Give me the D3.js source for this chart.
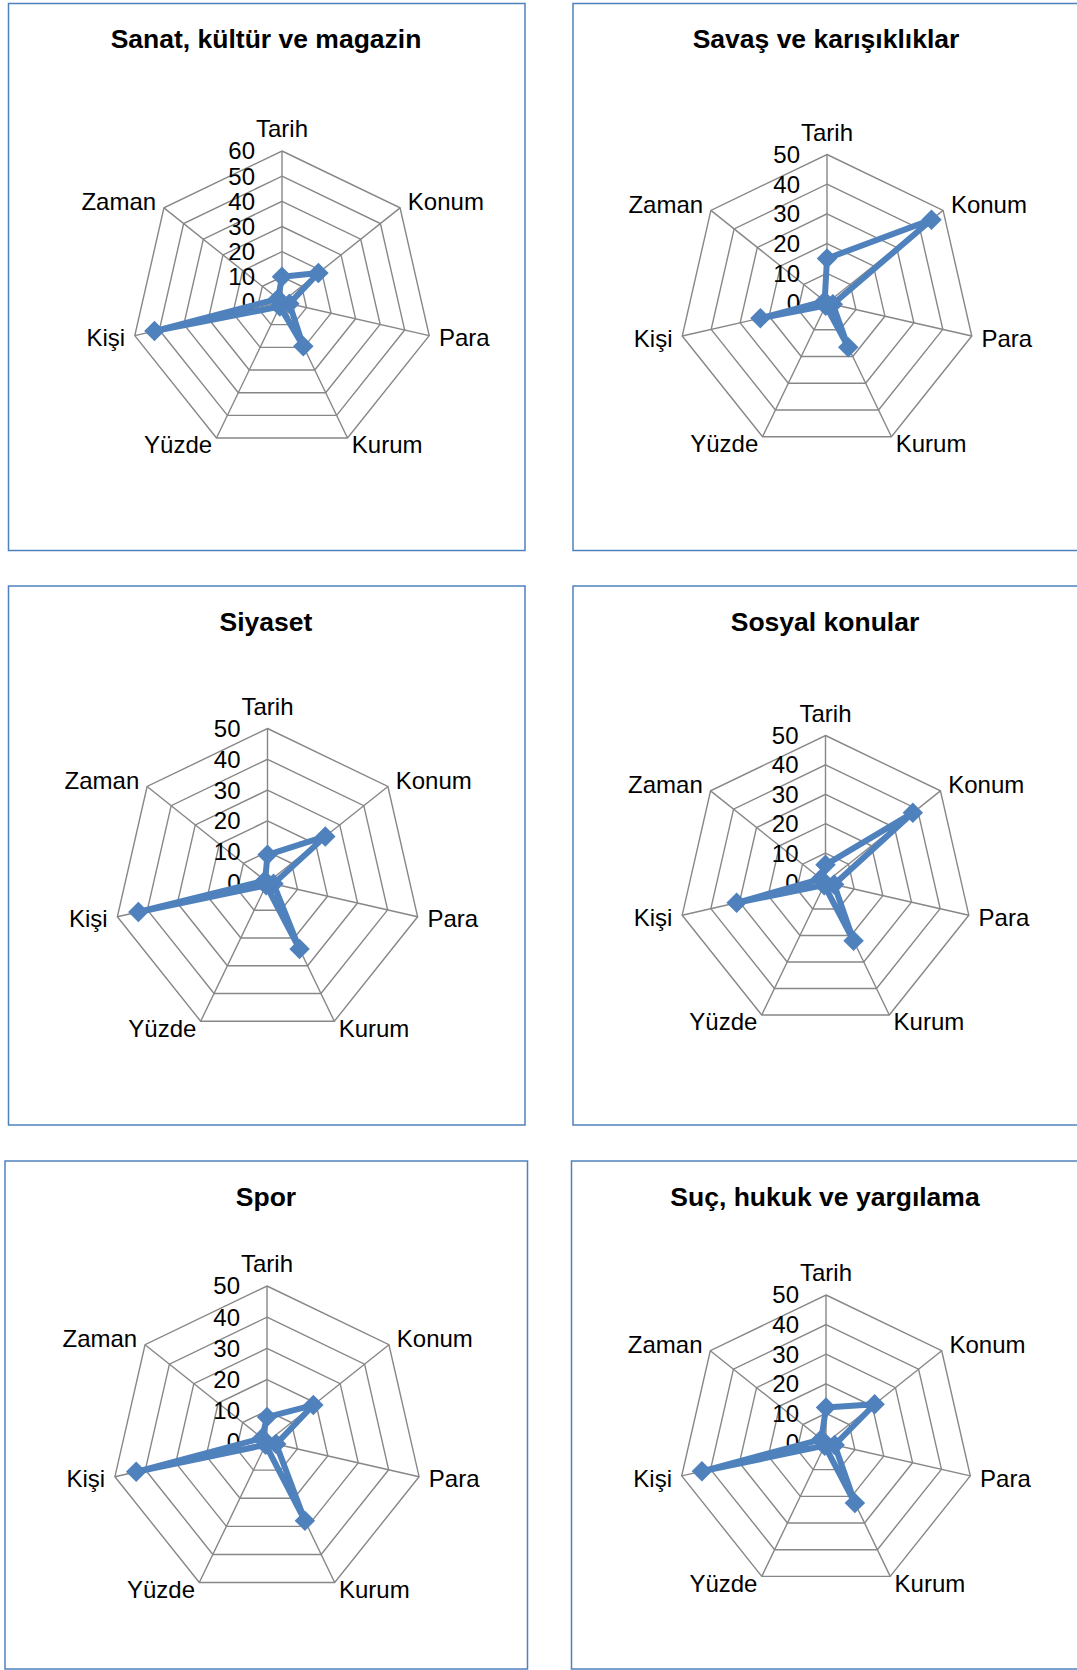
<!DOCTYPE html>
<html>
<head>
<meta charset="utf-8">
<script src="https://cdn.jsdelivr.net/npm/d3@7/dist/d3.min.js"></script>
<style>
  html, body { margin: 0; padding: 0; background: #fff; }
  svg { display: block; }
  text { font-family: "Liberation Sans", Arial, sans-serif; fill: #000; }
</style>
</head>
<body>
<svg id="chart" width="1077" height="1670"></svg>
<script>
// ---- data ----
const axes = ["Tarih", "Konum", "Para", "Kurum", "Yüzde", "Kişi", "Zaman"];
const titles = [
  "Sanat, kültür ve magazin",
  "Savaş ve karışıklıklar",
  "Siyaset",
  "Sosyal konular",
  "Spor",
  "Suç, hukuk ve yargılama"
];
const sanatValues  = [10, 18.5, 3, 19.5, 2, 52, 2];
const savasValues  = [15, 45, 2, 16.5, 1, 23, 1];
const siyasetValues = [9, 24, 2, 24, 1, 43, 1];
const sosyalValues = [6, 38, 3, 22, 1, 31, 2];
const sporValues   = [8, 19, 3, 28, 1, 43, 2];
const sucValues    = [12, 21, 3, 22.5, 1, 43, 2];
const seriesValues = [sanatValues, savasValues, siyasetValues, sosyalValues, sporValues, sucValues];
const axisMax = [60, 50, 50, 50, 50, 50];
const tickStep = 10;

// ---- layout (positions / sizes) ----
const layout = [
  { box: [8.5, 3.5, 516.5, 547], cx: 282, cy: 302, r: 151, titleX: 266, titleY: 48 },
  { box: [573, 3.5, 530, 547], cx: 827, cy: 303, r: 148.5, titleX: 826, titleY: 48 },
  { box: [8.5, 586, 516.5, 539], cx: 267.5, cy: 882.5, r: 154, titleX: 266, titleY: 631 },
  { box: [573, 586, 530, 539], cx: 825.5, cy: 882.5, r: 147, titleX: 825, titleY: 631 },
  { box: [5, 1161, 522.5, 508], cx: 267, cy: 1442, r: 156, titleX: 266, titleY: 1206 },
  { box: [571.5, 1161, 530, 508], cx: 826, cy: 1443, r: 148, titleX: 825, titleY: 1206 }
];

const seriesColor = "#4F81BD";
const gridColor = "#878787";
const borderColor = "#4F81BD";

const svg = d3.select("#chart");

layout.forEach((L, p) => {
  const max = axisMax[p];
  const values = seriesValues[p];
  const ticks = d3.range(0, max + tickStep / 2, tickStep);
  const rScale = d3.scaleLinear().domain([0, max]).range([0, L.r]);
  const aScale = d3.scaleLinear().domain([0, axes.length]).range([0, 2 * Math.PI]);

  // panel border
  svg.append("rect")
    .attr("x", L.box[0]).attr("y", L.box[1])
    .attr("width", L.box[2]).attr("height", L.box[3])
    .attr("fill", "none").attr("stroke", borderColor).attr("stroke-width", 1.5);

  // title
  svg.append("text")
    .attr("x", L.titleX).attr("y", L.titleY)
    .attr("text-anchor", "middle")
    .attr("font-size", 26.5).attr("font-weight", "bold")
    .text(titles[p]);

  const g = svg.append("g").attr("transform", `translate(${L.cx},${L.cy})`);

  // grid rings
  const ring = d3.lineRadial()
    .angle((d, i) => aScale(i))
    .radius(d => rScale(d))
    .curve(d3.curveLinearClosed);
  ticks.filter(t => t > 0).forEach(t => {
    g.append("path")
      .attr("d", ring(axes.map(() => t)))
      .attr("fill", "none").attr("stroke", gridColor).attr("stroke-width", 1.4);
  });

  // spokes
  axes.forEach((a, i) => {
    const ang = aScale(i);
    g.append("line")
      .attr("x1", 0).attr("y1", 0)
      .attr("x2", rScale(max) * Math.sin(ang))
      .attr("y2", -rScale(max) * Math.cos(ang))
      .attr("stroke", gridColor).attr("stroke-width", 1.4);
  });

  // tick labels
  g.selectAll("text.tick").data(ticks).enter().append("text")
    .attr("class", "tick")
    .attr("x", -27)
    .attr("y", d => -rScale(d))
    .attr("dy", "0.35em")
    .attr("text-anchor", "end")
    .attr("font-size", 24)
    .text(d => d);

  // series line
  g.append("path")
    .attr("d", ring(values))
    .attr("fill", "none")
    .attr("stroke", seriesColor)
    .attr("stroke-width", 6)
    .attr("stroke-linejoin", "round");

  // markers
  const diamond = d3.symbol().type(d3.symbolSquare).size(210);
  values.forEach((v, i) => {
    const ang = aScale(i);
    const x = rScale(v) * Math.sin(ang);
    const y = -rScale(v) * Math.cos(ang);
    g.append("path")
      .attr("d", diamond())
      .attr("transform", `translate(${x},${y}) rotate(45)`)
      .attr("fill", seriesColor);
  });

  // axis labels
  axes.forEach((a, i) => {
    const ang = aScale(i);
    const s = Math.sin(ang), c = Math.cos(ang);
    const rr = rScale(max) + 10;
    let x = rr * s, y = -rr * c;
    let anchor = "middle";
    if (s > 0.1) anchor = "start";
    else if (s < -0.1) anchor = "end";
    if (c > 0.9) y -= 12;
    else if (c < -0.5) y -= 2;
    g.append("text")
      .attr("x", x).attr("y", y)
      .attr("dy", "0.35em")
      .attr("text-anchor", anchor)
      .attr("font-size", 24)
      .text(a);
  });
});
</script>
</body>
</html>
